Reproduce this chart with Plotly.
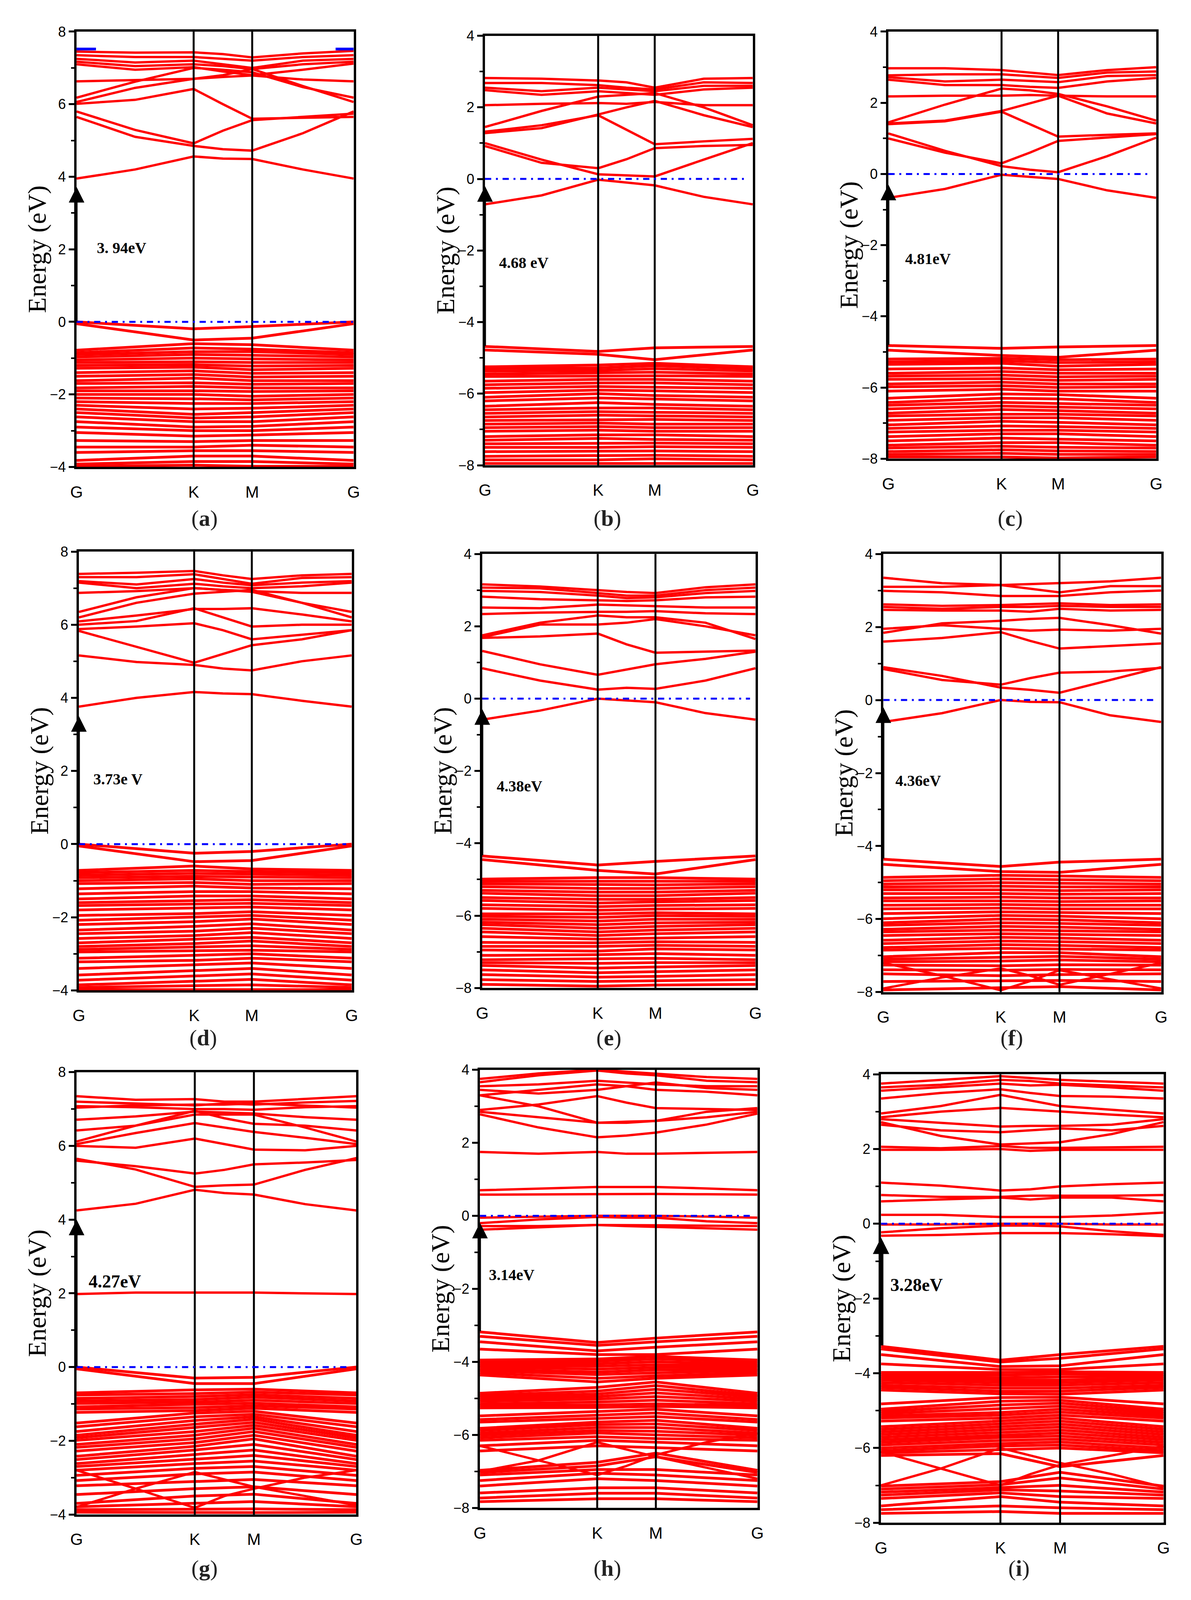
import plotly.graph_objects as go

W, H = 3050, 4588
K_POS, M_POS = 0.4226, 0.6339
NODES7 = [0.0, 0.2113, K_POS, 0.5283, M_POS, 0.8170, 1.0]
NODES4 = [0.0, K_POS, M_POS, 1.0]
K_LABELS = ["G", "K", "M", "G"]

# ---------------- panel (a) ----------------
a_bands = [
    [3.95, 4.20, 4.56, 4.50, 4.49, 4.20, 3.95],
    [5.80, 5.29, 4.92, 5.27, 5.56, 5.65, 5.74],
    [5.65, 5.10, 4.85, 4.76, 4.72, 5.20, 5.80],
    [6.01, 6.12, 6.42, 6.00, 5.60, 5.62, 5.65],
    [6.18, 6.62, 7.00, 6.95, 6.88, 6.47, 6.18],
    [6.06, 6.45, 6.70, 6.80, 6.97, 6.50, 6.06],
    [6.63, 6.66, 6.70, 6.75, 6.79, 6.68, 6.63],
    [7.45, 7.42, 7.43, 7.38, 7.29, 7.40, 7.47],
    [7.35, 7.30, 7.30, 7.25, 7.20, 7.30, 7.35],
    [7.25, 7.15, 7.20, 7.10, 7.00, 7.20, 7.25],
    [7.17, 7.05, 7.10, 7.05, 6.97, 7.10, 7.17],
    [7.10, 6.95, 7.02, 6.90, 6.80, 6.95, 7.12],
]
a_blue_k = [0.0, 0.07, None, 0.935, 1.0]
a_blue_E = [7.52, 7.52, None, 7.52, 7.52]
a_vG = [0.0, -0.05, -0.78, -0.85, -0.9, -0.97, -1.05, -1.12, -1.2, -1.28, -1.4, -1.5, -1.62, -1.7, -1.82, -1.9,
        -2.0, -2.1, -2.2, -2.3, -2.4, -2.5, -2.62, -2.75, -2.9, -3.05, -3.27, -3.45, -3.6, -3.82, -3.92, -3.98]
a_vK = [-0.19, -0.5, -0.6, -0.72, -0.82, -0.9, -1.0, -1.1, -1.18, -1.25, -1.35, -1.45, -1.55, -1.68, -1.78, -1.9,
        -2.0, -2.12, -2.25, -2.4, -2.55, -2.65, -2.75, -2.9, -3.0, -3.15, -3.3, -3.45, -3.55, -3.7, -3.85, -3.95]
a_vM = [-0.13, -0.45, -0.63, -0.75, -0.82, -0.92, -1.02, -1.12, -1.22, -1.32, -1.42, -1.52, -1.62, -1.72, -1.82, -1.92,
        -2.05, -2.15, -2.25, -2.38, -2.5, -2.62, -2.75, -2.88, -3.0, -3.12, -3.27, -3.4, -3.55, -3.7, -3.85, -3.98]

# ---------------- panel (b) ----------------
b_bands = [
    [-0.71, -0.46, -0.02, -0.10, -0.18, -0.50, -0.71],
    [1.00, 0.54, 0.13, 0.10, 0.07, 0.54, 1.00],
    [0.92, 0.45, 0.30, 0.55, 0.86, 0.92, 0.95],
    [1.28, 1.42, 1.80, 2.00, 2.18, 1.78, 1.45],
    [1.45, 1.90, 2.30, 2.35, 2.40, 2.00, 1.50],
    [2.06, 2.10, 2.12, 2.10, 2.15, 2.06, 2.06],
    [2.82, 2.80, 2.75, 2.70, 2.55, 2.80, 2.82],
    [2.68, 2.68, 2.62, 2.55, 2.50, 2.70, 2.68],
    [2.55, 2.45, 2.55, 2.50, 2.45, 2.60, 2.60],
    [2.48, 2.35, 2.45, 2.40, 2.35, 2.50, 2.55],
    [1.32, 1.50, 1.78, 1.38, 0.97, 1.05, 1.12],
]
b_vG = [-4.68, -4.78, -5.25, -5.3, -5.37, -5.45, -5.52, -5.65, -5.75, -5.85, -5.97, -6.1, -6.2, -6.35, -6.45,
        -6.55, -6.65, -6.75, -6.85, -6.95, -7.05, -7.2, -7.3, -7.4, -7.5, -7.62, -7.75, -7.85, -7.95]
b_vK = [-4.82, -4.9, -5.2, -5.28, -5.35, -5.42, -5.5, -5.6, -5.7, -5.8, -5.9, -6.0, -6.12, -6.25, -6.4,
        -6.5, -6.6, -6.72, -6.82, -6.92, -7.02, -7.15, -7.25, -7.38, -7.5, -7.6, -7.72, -7.85, -7.95]
b_vM = [-4.72, -5.05, -5.15, -5.22, -5.3, -5.4, -5.5, -5.6, -5.7, -5.82, -5.92, -6.05, -6.15, -6.3, -6.4,
        -6.52, -6.62, -6.72, -6.85, -6.95, -7.05, -7.15, -7.28, -7.38, -7.48, -7.6, -7.72, -7.82, -7.95]

# ---------------- panel (c) ----------------
c_bands = [
    [-0.67, -0.42, -0.02, -0.08, -0.14, -0.46, -0.67],
    [1.00, 0.60, 0.30, 0.60, 0.93, 1.02, 1.12],
    [1.14, 0.65, 0.22, 0.12, 0.05, 0.50, 1.02],
    [1.42, 1.50, 1.77, 1.98, 2.20, 1.70, 1.42],
    [1.45, 1.95, 2.40, 2.35, 2.25, 1.90, 1.50],
    [1.40, 1.48, 1.75, 1.40, 1.05, 1.10, 1.14],
    [2.18, 2.20, 2.20, 2.22, 2.20, 2.18, 2.18],
    [2.97, 2.97, 2.92, 2.85, 2.78, 2.92, 3.00],
    [2.77, 2.80, 2.80, 2.75, 2.70, 2.85, 2.88],
    [2.72, 2.60, 2.65, 2.62, 2.58, 2.75, 2.78],
    [2.65, 2.50, 2.50, 2.45, 2.42, 2.60, 2.70],
]
c_vG = [-4.82, -4.95, -5.2, -5.28, -5.35, -5.48, -5.6, -5.68, -5.77, -5.9, -5.98, -6.1, -6.3, -6.42, -6.5,
        -6.6, -6.72, -6.8, -6.92, -7.05, -7.15, -7.25, -7.38, -7.5, -7.62, -7.7, -7.8, -7.88, -7.95]
c_vK = [-4.9, -5.1, -5.18, -5.25, -5.32, -5.45, -5.55, -5.65, -5.75, -5.85, -5.95, -6.05, -6.18, -6.3, -6.42,
        -6.52, -6.62, -6.75, -6.85, -6.95, -7.08, -7.2, -7.3, -7.42, -7.55, -7.65, -7.75, -7.85, -7.95]
c_vM = [-4.86, -5.15, -5.22, -5.3, -5.4, -5.5, -5.6, -5.7, -5.8, -5.9, -6.0, -6.1, -6.2, -6.32, -6.45,
        -6.55, -6.65, -6.75, -6.85, -6.98, -7.1, -7.2, -7.3, -7.45, -7.55, -7.68, -7.78, -7.88, -7.98]

# ---------------- panel (d) ----------------
d_bands = [
    [3.76, 4.00, 4.16, 4.12, 4.10, 3.92, 3.76],
    [5.16, 4.98, 4.90, 4.80, 4.75, 5.00, 5.16],
    [5.83, 5.40, 4.96, 5.20, 5.44, 5.60, 5.85],
    [5.88, 5.95, 6.04, 5.85, 5.60, 5.72, 5.85],
    [6.09, 6.25, 6.43, 6.43, 6.45, 6.28, 6.09],
    [6.20, 6.60, 6.85, 6.90, 6.95, 6.60, 6.20],
    [6.35, 6.75, 7.00, 6.95, 6.90, 6.60, 6.35],
    [6.87, 6.92, 7.00, 6.95, 6.92, 6.87, 6.87],
    [7.39, 7.42, 7.47, 7.35, 7.25, 7.35, 7.39],
    [7.30, 7.30, 7.38, 7.25, 7.12, 7.28, 7.30],
    [7.19, 7.10, 7.25, 7.15, 7.08, 7.15, 7.19],
    [7.15, 7.00, 7.12, 7.05, 7.00, 7.05, 7.15],
    [6.00, 6.10, 6.45, 6.20, 5.95, 6.00, 6.00],
]
d_vG = [0.0, -0.05, -0.72, -0.78, -0.85, -0.92, -1.0, -1.08, -1.22, -1.36, -1.5, -1.6, -1.68, -1.8, -1.95, -2.08,
        -2.2, -2.35, -2.45, -2.58, -2.7, -2.8, -2.88, -2.95, -3.12, -3.22, -3.4, -3.58, -3.72, -3.85, -3.92, -3.98]
d_vK = [-0.25, -0.48, -0.6, -0.72, -0.8, -0.88, -0.95, -1.05, -1.15, -1.3, -1.42, -1.55, -1.65, -1.75, -1.9, -2.0,
        -2.12, -2.25, -2.38, -2.5, -2.6, -2.72, -2.82, -2.92, -3.05, -3.18, -3.3, -3.45, -3.6, -3.75, -3.88, -3.98]
d_vM = [-0.2, -0.45, -0.68, -0.75, -0.82, -0.9, -1.0, -1.1, -1.2, -1.3, -1.42, -1.52, -1.62, -1.72, -1.85, -1.95,
        -2.05, -2.18, -2.3, -2.42, -2.55, -2.65, -2.78, -2.9, -3.0, -3.12, -3.25, -3.4, -3.55, -3.7, -3.85, -3.98]

# ---------------- panel (e) ----------------
e_bands = [
    [-0.58, -0.33, 0.00, -0.05, -0.10, -0.40, -0.58],
    [0.84, 0.50, 0.25, 0.30, 0.27, 0.50, 0.84],
    [1.32, 0.95, 0.66, 0.80, 0.95, 1.10, 1.30],
    [1.68, 1.72, 1.80, 1.50, 1.27, 1.30, 1.33],
    [1.70, 2.05, 2.05, 2.10, 2.20, 2.00, 1.75],
    [1.75, 2.10, 2.30, 2.25, 2.25, 2.10, 1.65],
    [2.34, 2.38, 2.40, 2.40, 2.42, 2.36, 2.34],
    [2.52, 2.50, 2.60, 2.58, 2.55, 2.52, 2.52],
    [2.82, 2.75, 2.72, 2.70, 2.72, 2.80, 2.82],
    [2.98, 2.95, 2.85, 2.78, 2.80, 2.92, 2.98],
    [3.07, 3.05, 2.92, 2.85, 2.85, 3.00, 3.07],
    [3.16, 3.10, 3.00, 2.95, 2.92, 3.08, 3.16],
]
e_vG = [-4.35, -4.45, -4.99, -5.05, -5.12, -5.2, -5.3, -5.38, -5.5, -5.58, -5.7, -5.8, -5.95, -6.02, -6.1, -6.18,
        -6.25, -6.35, -6.45, -6.58, -6.74, -6.85, -6.95, -7.1, -7.22, -7.3, -7.38, -7.5, -7.63, -7.77, -7.9]
e_vK = [-4.6, -4.75, -4.95, -5.05, -5.15, -5.25, -5.35, -5.45, -5.55, -5.65, -5.75, -5.85, -5.95, -6.05, -6.15,
        -6.25, -6.35, -6.45, -6.55, -6.65, -6.75, -6.85, -6.98, -7.08, -7.2, -7.32, -7.45, -7.58, -7.7, -7.82, -7.95]
e_vM = [-4.5, -4.85, -4.95, -5.05, -5.15, -5.25, -5.35, -5.45, -5.55, -5.62, -5.72, -5.82, -5.92, -6.0, -6.1,
        -6.2, -6.3, -6.4, -6.5, -6.62, -6.72, -6.82, -6.92, -7.05, -7.18, -7.3, -7.42, -7.55, -7.68, -7.8, -7.92]

# ---------------- panel (f) ----------------
f_bands = [
    [-0.60, -0.36, 0.00, -0.05, -0.06, -0.42, -0.60],
    [0.90, 0.66, 0.34, 0.28, 0.20, 0.55, 0.90],
    [0.85, 0.55, 0.42, 0.60, 0.75, 0.78, 0.88],
    [1.60, 1.70, 1.86, 1.62, 1.41, 1.48, 1.55],
    [1.84, 2.10, 2.17, 2.22, 2.25, 2.05, 1.82],
    [1.95, 2.05, 1.95, 1.90, 1.93, 1.90, 1.95],
    [3.35, 3.20, 3.15, 3.18, 3.20, 3.25, 3.35],
    [3.10, 3.10, 3.15, 3.05, 2.95, 3.12, 3.12],
    [2.99, 2.95, 2.85, 2.85, 2.85, 2.95, 3.00],
    [2.62, 2.58, 2.60, 2.62, 2.65, 2.60, 2.62],
    [2.55, 2.50, 2.55, 2.55, 2.58, 2.55, 2.55],
    [2.47, 2.45, 2.45, 2.42, 2.50, 2.45, 2.47],
    [-7.20, -7.55, -7.95, -7.70, -7.40, -7.65, -7.90],
    [-7.90, -7.60, -7.35, -7.55, -7.80, -7.50, -7.20],
]
f_vG = [-4.36, -4.5, -4.86, -4.95, -5.04, -5.12, -5.2, -5.3, -5.42, -5.5, -5.62, -5.72, -5.85, -5.99, -6.1, -6.17,
        -6.28, -6.35, -6.45, -6.58, -6.67, -6.78, -6.85, -7.03, -7.1, -7.17, -7.26, -7.39, -7.5, -7.71, -7.94]
f_vK = [-4.56, -4.7, -4.8, -4.9, -5.0, -5.1, -5.2, -5.3, -5.4, -5.5, -5.6, -5.7, -5.8, -5.9, -6.0, -6.1,
        -6.2, -6.3, -6.4, -6.5, -6.6, -6.7, -6.8, -6.92, -7.05, -7.15, -7.28, -7.4, -7.55, -7.7, -7.88]
f_vM = [-4.44, -4.72, -4.82, -4.92, -5.02, -5.12, -5.22, -5.32, -5.42, -5.52, -5.62, -5.72, -5.82, -5.92, -6.02,
        -6.12, -6.22, -6.32, -6.42, -6.52, -6.62, -6.72, -6.82, -6.92, -7.02, -7.12, -7.25, -7.38, -7.52, -7.68, -7.85]

# ---------------- panel (g) ----------------
g_bands = [
    [1.98, 2.02, 2.02, 2.02, 2.02, 2.00, 1.98],
    [4.25, 4.43, 4.81, 4.72, 4.68, 4.42, 4.25],
    [5.65, 5.36, 4.89, 4.93, 4.95, 5.35, 5.67],
    [5.60, 5.45, 5.25, 5.35, 5.50, 5.55, 5.62],
    [6.00, 5.95, 6.20, 6.05, 5.90, 5.88, 6.00],
    [6.05, 6.35, 6.62, 6.50, 6.38, 6.22, 6.05],
    [6.12, 6.55, 6.85, 6.85, 6.85, 6.50, 6.12],
    [6.42, 6.55, 6.95, 6.75, 6.60, 6.55, 6.42],
    [6.71, 6.80, 6.93, 6.90, 6.88, 6.78, 6.71],
    [7.04, 7.10, 7.12, 7.12, 7.15, 7.10, 7.04],
    [7.08, 7.05, 7.00, 7.00, 6.98, 7.05, 7.08],
    [7.35, 7.25, 7.27, 7.20, 7.20, 7.28, 7.35],
    [7.20, 7.15, 7.10, 7.15, 7.12, 7.18, 7.22],
    [-2.80, -3.30, -3.82, -3.50, -3.30, -3.00, -2.80],
    [-3.80, -3.30, -2.85, -3.05, -3.25, -3.50, -3.75],
]
g_vG = [0.0, -0.05, -0.7, -0.76, -0.85, -0.92, -0.99, -1.08, -1.14, -1.23, -1.52, -1.62, -1.75, -1.85, -1.92, -1.99,
        -2.1, -2.18, -2.28, -2.42, -2.51, -2.62, -2.7, -2.8, -2.94, -3.08, -3.22, -3.46, -3.7, -3.79, -3.87, -3.94]
g_vK = [-0.3, -0.45, -0.62, -0.72, -0.8, -0.88, -0.95, -1.02, -1.1, -1.18, -1.25, -1.35, -1.45, -1.55, -1.65, -1.75,
        -1.85, -1.95, -2.05, -2.15, -2.25, -2.38, -2.5, -2.62, -2.75, -2.9, -3.1, -3.3, -3.5, -3.7, -3.85, -3.95]
g_vM = [-0.28, -0.45, -0.6, -0.68, -0.75, -0.82, -0.9, -0.98, -1.05, -1.12, -1.2, -1.28, -1.35, -1.42, -1.5, -1.58,
        -1.66, -1.75, -1.85, -1.95, -2.1, -2.25, -2.4, -2.55, -2.7, -2.85, -3.05, -3.25, -3.45, -3.65, -3.85, -3.95]

# ---------------- panel (h) ----------------
h_bands = [
    [-0.05, -0.02, 0.00, 0.00, 0.00, -0.02, -0.05],
    [-0.20, -0.10, -0.03, -0.05, -0.05, -0.15, -0.20],
    [-0.28, -0.28, -0.25, -0.25, -0.26, -0.27, -0.28],
    [-0.38, -0.32, -0.25, -0.28, -0.30, -0.35, -0.38],
    [0.58, 0.59, 0.60, 0.60, 0.60, 0.59, 0.58],
    [0.70, 0.75, 0.79, 0.79, 0.79, 0.75, 0.70],
    [1.75, 1.70, 1.75, 1.70, 1.70, 1.72, 1.75],
    [2.78, 2.42, 2.15, 2.20, 2.28, 2.50, 2.80],
    [2.90, 3.05, 3.28, 3.10, 2.95, 2.92, 2.90],
    [2.85, 2.70, 2.55, 2.58, 2.60, 2.70, 2.85],
    [3.30, 3.00, 2.55, 2.55, 2.60, 2.85, 2.95],
    [3.30, 3.45, 3.60, 3.55, 3.45, 3.40, 3.30],
    [3.55, 3.60, 3.70, 3.65, 3.60, 3.55, 3.55],
    [3.66, 3.85, 3.98, 3.90, 3.85, 3.70, 3.66],
    [3.75, 3.90, 4.00, 3.95, 3.90, 3.80, 3.75],
    [3.45, 3.35, 3.45, 3.55, 3.65, 3.50, 3.45],
    [-6.30, -6.70, -7.10, -6.85, -6.55, -6.20, -5.95],
    [-7.00, -6.70, -6.20, -6.40, -6.60, -6.90, -7.20],
]
h_vG = [-3.18, -3.3, -3.45, -3.65, -3.95, -4.0, -4.05, -4.1, -4.14, -4.2, -4.24, -4.3, -4.36, -4.86, -4.92, -4.96,
        -5.02, -5.08, -5.15, -5.2, -5.26, -5.48, -5.58, -5.65, -5.82, -5.88, -5.95, -6.01, -6.08, -6.15, -6.3, -6.44,
        -6.97, -7.03, -7.1, -7.25, -7.4, -7.59, -7.73, -7.83]
h_vK = [-3.47, -3.55, -3.7, -3.8, -3.92, -3.98, -4.05, -4.12, -4.2, -4.28, -4.35, -4.45, -4.55, -4.7, -4.8, -4.88,
        -4.95, -5.02, -5.1, -5.18, -5.25, -5.35, -5.45, -5.55, -5.65, -5.72, -5.8, -5.88, -5.95, -6.05, -6.15, -6.3,
        -6.75, -6.85, -6.95, -7.05, -7.2, -7.45, -7.6, -7.75]
h_vM = [-3.35, -3.45, -3.6, -3.8, -3.85, -3.92, -4.0, -4.08, -4.15, -4.22, -4.3, -4.38, -4.45, -4.55, -4.65, -4.75,
        -4.85, -4.95, -5.05, -5.15, -5.22, -5.3, -5.4, -5.5, -5.6, -5.7, -5.8, -5.9, -6.0, -6.1, -6.2, -6.35,
        -6.5, -6.6, -6.95, -7.1, -7.25, -7.45, -7.6, -7.75]

# ---------------- panel (i) ----------------
i_bands = [
    [0.24, 0.24, 0.18, 0.18, 0.18, 0.22, 0.30],
    [-0.02, -0.02, 0.00, 0.00, 0.00, -0.02, -0.02],
    [-0.23, -0.12, -0.05, -0.05, -0.07, -0.20, -0.30],
    [-0.32, -0.30, -0.25, -0.25, -0.25, -0.28, -0.33],
    [0.60, 0.65, 0.70, 0.65, 0.70, 0.70, 0.60],
    [0.77, 0.72, 0.72, 0.75, 0.75, 0.75, 0.77],
    [1.10, 1.02, 0.89, 0.92, 1.00, 1.06, 1.10],
    [2.06, 2.02, 2.08, 2.03, 2.03, 2.04, 2.06],
    [1.98, 1.98, 2.00, 1.95, 1.98, 1.98, 1.98],
    [2.72, 2.35, 2.12, 2.15, 2.18, 2.40, 2.72],
    [2.95, 3.15, 3.45, 3.30, 3.15, 3.05, 2.95],
    [2.80, 2.70, 2.60, 2.62, 2.62, 2.65, 2.80],
    [2.65, 2.50, 2.45, 2.50, 2.55, 2.50, 2.62],
    [3.56, 3.65, 3.75, 3.70, 3.72, 3.65, 3.56],
    [3.75, 3.85, 3.95, 3.90, 3.85, 3.80, 3.75],
    [3.65, 3.72, 3.85, 3.82, 3.75, 3.70, 3.65],
    [2.85, 3.00, 3.10, 3.05, 3.00, 2.92, 2.85],
    [3.35, 3.50, 3.60, 3.50, 3.42, 3.40, 3.35],
    [-6.10, -6.55, -7.00, -6.70, -6.45, -6.20, -5.95],
    [-7.00, -6.55, -6.00, -6.20, -6.40, -6.70, -7.05],
]
i_vG = [-3.28, -3.35, -3.5, -3.75, -3.98, -4.03, -4.08, -4.13, -4.18, -4.25, -4.32, -4.38, -4.45, -4.82, -4.96, -5.02,
        -5.08, -5.14, -5.2, -5.28, -5.43, -5.5, -5.57, -5.64, -5.71, -5.78, -5.85, -5.92, -6.0, -6.07, -6.13, -6.2,
        -7.02, -7.1, -7.18, -7.26, -7.35, -7.55, -7.65, -7.75]
i_vK = [-3.65, -3.7, -3.82, -3.9, -3.98, -4.05, -4.12, -4.18, -4.25, -4.32, -4.4, -4.48, -4.55, -4.65, -4.75, -4.85,
        -4.95, -5.05, -5.12, -5.2, -5.28, -5.35, -5.42, -5.5, -5.58, -5.65, -5.72, -5.8, -5.88, -5.95, -6.05, -6.15,
        -6.9, -6.98, -7.05, -7.12, -7.2, -7.3, -7.55, -7.7]
i_vM = [-3.5, -3.6, -3.8, -3.9, -3.96, -4.02, -4.1, -4.18, -4.25, -4.32, -4.4, -4.48, -4.56, -4.64, -4.72, -4.8,
        -4.88, -4.96, -5.04, -5.12, -5.2, -5.28, -5.36, -5.44, -5.52, -5.6, -5.68, -5.76, -5.84, -5.92, -6.0, -6.5,
        -6.65, -6.8, -7.0, -7.15, -7.3, -7.45, -7.6, -7.75]

# gap labels, values and arrow extents (tail -> head)
gap_texts = ["3. 94eV", "4.68 eV", "4.81eV", "3.73e V", "4.38eV", "4.36eV", "4.27eV", "3.14eV", "3.28eV"]
gap_text_pos = [(0.07, 2.04), (0.05, -2.34), (0.06, -2.38), (0.05, 1.78), (0.05, -2.42),
                (0.04, -2.21), (0.04, 2.32), (0.03, -1.62), (0.03, -1.64)]
arrow_span = [(0, 3.72), (-4.68, -0.2), (-4.82, -0.3), (0, 3.5), (-4.35, -0.29),
              (-4.36, -0.2), (0, 4.0), (-3.18, -0.19), (-3.27, -0.37)]
panel_letters = ["a", "b", "c", "d", "e", "f", "g", "h", "i"]

# ---------------- layout geometry (pixels of the 3050x4588 page) ----------------
boxes = [(182, 899, 69, 1330), (1239, 1932, 81, 1325), (2283, 2976, 69, 1306),
         (188, 894, 1575, 2846), (1232, 1939, 1582, 2839), (2270, 2989, 1582, 2851),
         (182, 906, 3083, 4364), (1226, 1944, 3076, 4345), (2264, 2995, 3089, 4388)]
yranges = [(-4, 8), (-8, 4), (-8, 4), (-4, 8), (-8, 4), (-8, 4), (-4, 8), (-8, 4), (-8, 4)]
label_pos = [(513, 1478), (1556, 1478), (2598, 1478), (510, 2983), (1559, 2983), (2602, 2983),
             (513, 4519), (1556, 4519), (2621, 4519)]
gap_font = [40, 40, 40, 40, 40, 40, 46, 40, 46]
arrow_w = [5, 5, 5, 5, 5, 5, 5, 5, 12]
arrow_sz = [1.6, 1.6, 1.6, 1.6, 1.6, 1.6, 1.6, 1.6, 0.7]
fermi_end = [1.0, 0.98, 0.98, 0.98, 0.98, 0.98, 0.98, 0.98, 0.98]

data = {
    "a": (a_bands, a_vG, a_vK, a_vM), "b": (b_bands, b_vG, b_vK, b_vM), "c": (c_bands, c_vG, c_vK, c_vM),
    "d": (d_bands, d_vG, d_vK, d_vM), "e": (e_bands, e_vG, e_vK, e_vM), "f": (f_bands, f_vG, f_vK, f_vM),
    "g": (g_bands, g_vG, g_vK, g_vM), "h": (h_bands, h_vG, h_vK, h_vM), "i": (i_bands, i_vG, i_vK, i_vM),
}

RED = "#FF0000"
fig = go.Figure()
shapes, annotations = [], []
layout = {}

for idx, letter in enumerate(panel_letters):
    n = idx + 1
    sfx = "" if n == 1 else str(n)
    xa, ya = "x" + sfx, "y" + sfx
    bands, vG, vK, vM = data[letter]

    xs, ys = [], []
    for band in bands:
        xs += NODES7 + [None]
        ys += band + [None]
    fig.add_trace(go.Scatter(x=xs, y=ys, mode="lines", xaxis=xa, yaxis=ya,
                             line=dict(color=RED, width=6), hoverinfo="skip"))
    xs, ys = [], []
    for g0, k0, m0 in zip(vG, vK, vM):
        xs += NODES4 + [None]
        ys += [g0, k0, m0, g0, None]
    fig.add_trace(go.Scatter(x=xs, y=ys, mode="lines", xaxis=xa, yaxis=ya,
                             line=dict(color=RED, width=7), hoverinfo="skip"))
    if letter == "a":
        fig.add_trace(go.Scatter(x=a_blue_k, y=a_blue_E, mode="lines", xaxis=xa, yaxis=ya,
                                 line=dict(color="blue", width=7), hoverinfo="skip"))

    l, r, t, b = boxes[idx]
    layout["xaxis" + sfx] = dict(
        domain=[l / W, r / W], range=[0, 1], anchor=ya, showline=True, mirror=True,
        linecolor="black", linewidth=6, showgrid=False, zeroline=False,
        tickmode="array", tickvals=NODES4, ticktext=K_LABELS, ticks="",
        ticklabelstandoff=22,
        tickfont=dict(family="Liberation Sans", size=42, color="black"))
    layout["yaxis" + sfx] = dict(
        domain=[1 - b / H, 1 - t / H], range=list(yranges[idx]), anchor=xa,
        showline=True, mirror=True, linecolor="black", linewidth=6,
        showgrid=False, zeroline=False, tick0=0, dtick=2,
        ticks="outside", ticklen=14, tickwidth=5, tickcolor="black",
        minor=dict(dtick=1, ticks="outside", ticklen=8, tickwidth=4, tickcolor="black"),
        tickfont=dict(family="Liberation Sans", size=36, color="black"))

    for kx in (K_POS, M_POS):
        shapes.append(dict(type="line", xref=xa, yref=ya + " domain", x0=kx, x1=kx, y0=0, y1=1,
                           line=dict(color="black", width=5)))
    shapes.append(dict(type="line", xref=xa, yref=ya, x0=0, x1=fermi_end[idx], y0=0, y1=0,
                       line=dict(color="blue", width=5, dash="16px,12px,5px,12px")))

    tail, head = arrow_span[idx]
    annotations.append(dict(xref=xa, yref=ya, axref=xa, ayref=ya, x=0, y=head, ax=0, ay=tail,
                            text="", showarrow=True, arrowhead=2, arrowsize=arrow_sz[idx],
                            arrowwidth=arrow_w[idx], arrowcolor="black"))
    gx, gy = gap_text_pos[idx]
    annotations.append(dict(xref=xa, yref=ya, x=gx, y=gy, xanchor="left", yanchor="middle",
                            text=gap_texts[idx], showarrow=False,
                            font=dict(family="Liberation Serif", size=gap_font[idx], color="black",
                                      weight="bold")))
    annotations.append(dict(xref="paper", yref="paper", x=(l - 102) / W, y=1 - ((t + b) / 2) / H,
                            text="Energy (eV)", textangle=-90, showarrow=False,
                            xanchor="center", yanchor="middle",
                            font=dict(family="Liberation Serif", size=66, color="black")))
    lx, ly = label_pos[idx]
    annotations.append(dict(xref="paper", yref="paper", x=lx / W, y=1 - ly / H,
                            text="(<b>" + letter + "</b>)", showarrow=False,
                            xanchor="center", yanchor="middle",
                            font=dict(family="Liberation Serif", size=58, color="#222222")))

fig.update_layout(
    width=W, height=H, margin=dict(l=0, r=0, t=0, b=0),
    paper_bgcolor="white", plot_bgcolor="white", showlegend=False,
    shapes=shapes, annotations=annotations, **layout)

# fit the figure to the actual browser viewport so nothing is cut off
fit_js = (
    "document.documentElement.style.margin='0';document.body.style.margin='0';"
    "document.body.style.overflow='hidden';"
    "var gd=document.getElementById('{plot_id}');"
    "var w=window.innerWidth, h=window.innerHeight;"
    "if(w>500 && h>500){Plotly.relayout(gd,{width:w,height:h});}"
)

fig.write_html("out.html", post_script=fit_js, config={"displayModeBar": False})
